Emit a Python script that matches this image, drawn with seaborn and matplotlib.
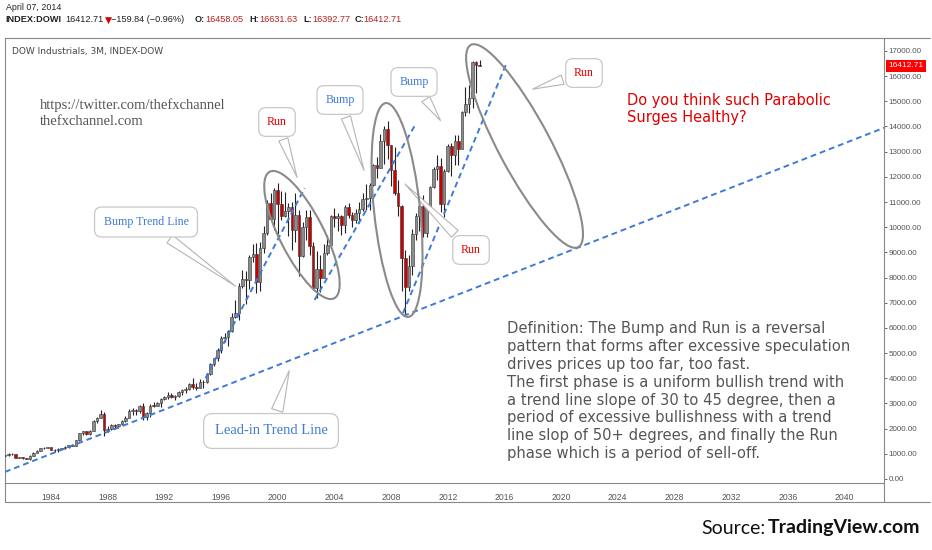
import numpy as np
import pandas as pd
import seaborn as sns
import matplotlib.pyplot as plt
from matplotlib.patches import Ellipse
from matplotlib.lines import Line2D
from matplotlib.transforms import IdentityTransform

# quarterly Dow Industrials candles, Q4 1980 .. Q2 2014
start_year = 1980.75
opens = [932, 964, 1003, 977, 850, 875, 822, 811, 896, 1046, 1130, 1222, 1233,
         1259, 1165, 1132, 1207, 1212, 1267, 1336, 1329, 1547, 1819, 1893, 1768,
         1896, 2305, 2419, 2596, 1939, 1988, 2142, 2113, 2169, 2293, 2440, 2693,
         2753, 2707, 2881, 2453, 2634, 2914, 2907, 3017, 3169, 3236, 3319, 3272,
         3301, 3435, 3516, 3555, 3754, 3636, 3625, 3843, 3834, 4158, 4556, 4789,
         5117, 5587, 5655, 5882, 6448, 6584, 7673, 7945, 7908, 8800, 8952, 7843,
         9181, 9786, 10971, 10337, 11497, 10922, 10448, 10651, 10788, 9879, 10502, 8848,
         10022, 10404, 9243, 7592, 8342, 7992, 8985, 9275, 10454, 10358, 10435, 10080,
         10783, 10504, 10275, 10569, 10718, 11109, 11150, 11679, 12463, 12354, 13408, 13896,
         13265, 12263, 11350, 10851, 8776, 7609, 8447, 9712, 10428, 10857, 9774, 10788,
         11578, 12320, 12414, 10913, 12218, 13212, 12880, 13437, 13104, 14579, 14910, 15130,
         16577, 16458.05]
highs = [1000, 1027, 1031, 988, 891, 882, 850, 934, 1070, 1145, 1248, 1260, 1287,
         1287, 1186, 1240, 1245, 1299, 1338, 1372, 1553, 1822, 1909, 1920, 1956,
         2335, 2445, 2747, 2662, 2099, 2170, 2170, 2200, 2350, 2520, 2790, 2810,
         2790, 2950, 3025, 2660, 2980, 3060, 3060, 3210, 3300, 3440, 3430, 3340,
         3500, 3580, 3650, 3800, 4000, 3810, 3980, 3950, 4200, 4600, 4800, 5220,
         5690, 5800, 5920, 6600, 7110, 7800, 8300, 8250, 8900, 9340, 9370, 9400,
         10050, 11100, 11370, 11570, 11750, 11450, 11400, 10980, 11000, 11350, 10700, 10200,
         10670, 10700, 9400, 9050, 8900, 9350, 9700, 10480, 10750, 10570, 10470, 10870,
         10980, 10600, 10720, 10990, 11340, 11710, 11740, 12530, 12800, 13700, 14020, 14200,
         13280, 13200, 11870, 10900, 9090, 8880, 9920, 10580, 10960, 11260, 10950, 11650,
         12400, 12880, 12750, 12300, 13300, 13340, 13650, 13660, 14600, 15550, 15660, 16590,
         16590, 16631.63]
lows = [908, 931, 965, 824, 824, 795, 788, 770, 896, 1027, 1113, 1175, 1213,
        1134, 1086, 1086, 1171, 1184, 1237, 1298, 1312, 1502, 1735, 1755, 1754,
        1896, 2216, 2405, 1700, 1879, 1946, 1990, 2038, 2140, 2270, 2440, 2560,
        2540, 2610, 2345, 2340, 2470, 2850, 2880, 2860, 3130, 3190, 3200, 3130,
        3260, 3350, 3430, 3520, 3580, 3520, 3610, 3630, 3830, 4140, 4500, 4700,
        5000, 5460, 5300, 5850, 6410, 6300, 7600, 6940, 7540, 8600, 7400, 7470,
        8960, 9700, 10300, 9880, 9730, 10300, 10400, 9650, 9100, 9400, 8060, 8800,
        9500, 8900, 7500, 7200, 7420, 7990, 8900, 9250, 10000, 9860, 9700, 9750,
        10370, 10000, 10170, 10160, 10650, 10700, 10700, 11650, 11940, 12350, 12500, 12720,
        11630, 11290, 10460, 7450, 6470, 7450, 8090, 9490, 9840, 9600, 9610, 10700,
        11550, 11860, 10600, 10400, 12200, 12030, 12470, 12470, 13100, 14400, 14550, 14720,
        15340, 16392.77]
closes = [964, 1003, 977, 850, 875, 822, 811, 896, 1046, 1130, 1222, 1233, 1259,
          1165, 1132, 1207, 1212, 1267, 1336, 1329, 1547, 1819, 1893, 1768, 1896,
          2305, 2419, 2596, 1939, 1988, 2142, 2113, 2169, 2293, 2440, 2693, 2753,
          2707, 2881, 2453, 2634, 2914, 2907, 3017, 3169, 3236, 3319, 3272, 3301,
          3435, 3516, 3555, 3754, 3636, 3625, 3843, 3834, 4158, 4556, 4789, 5117,
          5587, 5655, 5882, 6448, 6584, 7673, 7945, 7908, 8800, 8952, 7843, 9181,
          9786, 10971, 10337, 11497, 10922, 10448, 10651, 10788, 9879, 10502, 8848, 10022,
          10404, 9243, 7592, 8342, 7992, 8985, 9275, 10454, 10358, 10435, 10080, 10783,
          10504, 10275, 10569, 10718, 11109, 11150, 11679, 12463, 12354, 13408, 13896, 13265,
          12263, 11350, 10851, 8776, 7609, 8447, 9712, 10428, 10857, 9774, 10788, 11578,
          12320, 12414, 10913, 12218, 13212, 12880, 13437, 13104, 14579, 14910, 15130, 16577,
          16458, 16412.71]

last_price = 16412.71
year_ticks = list(range(1984, 2041, 4))
price_ticks = list(range(0, 17001, 1000))

# hand drawn trend lines (year, price)
lead_in = ([1980.75, 2042.8], [280, 13950])
bump_line = ([1994.9, 2001.9], [4000, 11556])
bump2_line = ([2002.6, 2009.7], [7110, 14060])
bump3_line = ([2008.84, 2016.18], [6590, 16560])

df = pd.DataFrame({"open": opens, "high": highs, "low": lows, "close": closes})
df["t"] = start_year + 0.25 * np.arange(len(df))
df["up"] = df["close"] >= df["open"]

sns.set_theme(style="white")
plt.rcParams["font.family"] = ["DejaVu Sans"]

fig = plt.figure(figsize=(9.32, 5.5), dpi=100)
ax = fig.add_axes([5 / 932, 67 / 550, 879 / 932, 445 / 550])

blue = "#3f7ad6"
grey_line = "#8a8a8a"
small = ["Liberation Sans"]

# candles
ax.vlines(df["t"], df["low"], df["high"], color="#222222", lw=0.8, zorder=2)
body_low = df[["open", "close"]].min(axis=1)
body_h = (df["close"] - df["open"]).abs().clip(lower=25)
colors = np.where(df["up"], "#8c8c8c", "#cc0000")
ax.bar(df["t"], body_h, bottom=body_low, width=0.18, color=colors,
       edgecolor="#333333", linewidth=0.4, zorder=3)

# trend lines
for xs, ys in [lead_in, bump_line, bump2_line, bump3_line]:
    sns.lineplot(x=xs, y=ys, ax=ax, color=blue, lw=1.4, linestyle=(0, (3, 2)), zorder=4)

ax.set_xlim(1980.75, 2042.79)
ax.set_ylim(-160, 17515)
ax.yaxis.tick_right()
ax.set_yticks(price_ticks)
ax.set_yticklabels([f"{v:.2f}" for v in price_ticks], family=small)
ax.set_xticks(year_ticks)
ax.set_xticklabels([str(y) for y in year_ticks], family=small)
ax.tick_params(axis="y", labelsize=5.8, colors="#555555", length=2, width=0.6,
               direction="out", pad=1.5)
ax.tick_params(axis="x", labelsize=6.2, colors="#555555", length=2, width=0.6,
               direction="out", pad=5)
for s in ax.spines.values():
    s.set_color("#888888")
    s.set_linewidth(0.8)

# ellipses (centre in data, size in pixels)
def ring(year, price, w, h, ang):
    cx, cy = ax.transData.transform((year, price))
    fig.patches.append(Ellipse((cx, cy), w, h, angle=ang, transform=IdentityTransform(),
                               fill=False, ec=grey_line, lw=1.5, zorder=5))

ring(2001.71, 9690, 142, 44, -63)
ring(2008.42, 10683, 215, 46, -84)
ring(2017.42, 13225, 229, 52, -62)

# callouts
def callout(txt, color, xy, xyfig, size=8.6, pad=0.75):
    ax.annotate(txt, xy=xy, xycoords="data", xytext=xyfig, textcoords="figure pixels",
                ha="center", va="center", color=color, fontsize=size,
                family=["Liberation Serif"], zorder=6,
                bbox=dict(boxstyle=f"round,pad={pad},rounding_size=0.6", fc="white",
                          ec="#c8c8c8", lw=0.9),
                arrowprops=dict(arrowstyle="wedge,tail_width=0.8,shrink_factor=0.5",
                                fc="white", ec="#b5b5b5", lw=0.8))

callout("Bump Trend Line", blue, (1997.2, 7585), (146, 328))
callout("Run", "#e00000", (2001.43, 11875), (277, 428), pad=0.7)
callout("Bump", blue, (2006.16, 12150), (340, 450), pad=0.7)
callout("Bump", blue, (2011.6, 14140), (414, 468), pad=0.7)
callout("Run", "#e00000", (2008.84, 11795), (471, 300), pad=0.7)
callout("Run", "#e00000", (2017.8, 15450), (584, 477), pad=0.7)
callout("Lead-in Trend Line", blue, (2000.87, 4410), (271, 119), size=10.5)

# free text
fig.text(40 / 932, 1 - 113 / 550, "https://twitter.com/thefxchannel\nthefxchannel.com",
         family=["Liberation Serif"], fontsize=10.5, color="#555555", va="center",
         linespacing=1.3)
fig.text(627 / 932, 1 - 109 / 550, "Do you think such Parabolic\nSurges Healthy?",
         fontsize=10.5, color="#e00000", va="center", linespacing=1.15)
definition = ("Definition: The Bump and Run is a reversal\n"
              "pattern that forms after excessive speculation\n"
              "drives prices up too far, too fast.\n"
              "The first phase is a uniform bullish trend with\n"
              "a trend line slope of 30 to 45 degree, then a\n"
              "period of excessive bullishness with a trend\n"
              "line slop of 50+ degrees, and finally the Run\n"
              "phase which is a period of sell-off.")
fig.text(507 / 932, 1 - 321 / 550, definition, fontsize=10.6, color="#555555",
         va="top", linespacing=1.24)
fig.text(12 / 932, 1 - 52 / 550, "DOW Industrials, 3M, INDEX-DOW", fontsize=6.5,
         color="#444444", va="center")

# last price label
ax.annotate(f"{last_price:.2f}", xy=(1.0, last_price), xycoords=("axes fraction", "data"),
            xytext=(3, 0), textcoords="offset points", va="center", ha="left",
            fontsize=6, color="white", family=small,
            bbox=dict(boxstyle="square,pad=0.3", fc="#ff0000", ec="none"))

# header line
fig.text(6 / 932, 1 - 8 / 550, "April 07, 2014", fontsize=6.4, color="#222222",
         va="center", family=small)
hy = 1 - 20 / 550
pieces = [(5, "INDEX:DOWI", "#222222", "bold"), (65, "16412.71", "#222222", "normal"),
          (105, "\u25bc", "#cc0000", "normal"), (111, "\u2212159.84 (\u22120.96%)", "#222222", "normal"),
          (195, "O:", "#222222", "bold"), (205, "16458.05", "#b22222", "normal"),
          (249, "H:", "#222222", "bold"), (259, "16631.63", "#b22222", "normal"),
          (303, "L:", "#222222", "bold"), (312, "16392.77", "#b22222", "normal"),
          (355, "C:", "#222222", "bold"), (363, "16412.71", "#b22222", "normal")]
for px, s, c, w in pieces:
    fam = ["DejaVu Sans"] if s == "\u25bc" else small
    fig.text(px / 932, hy, s, fontsize=6.6, color=c, weight=w, va="center", family=fam)

# pane frame lines
for xs, ys in [([5, 5], [67, 48]), ([5, 930], [48, 48]), ([884, 930], [512, 512]),
               ([884, 884], [67, 48])]:
    fig.lines.append(Line2D(xs, ys, transform=IdentityTransform(), color="#888888", lw=0.8))

fig.text(920 / 932, 1 - 528 / 550, "TradingView.com", family=["Lato"], fontsize=14,
         weight="bold", color="#111111", va="center", ha="right")
fig.text(766 / 932, 1 - 528 / 550, "Source:", family=["Lato"], fontsize=14,
         color="#111111", va="center", ha="right")

fig.savefig("out.png", dpi=100)
